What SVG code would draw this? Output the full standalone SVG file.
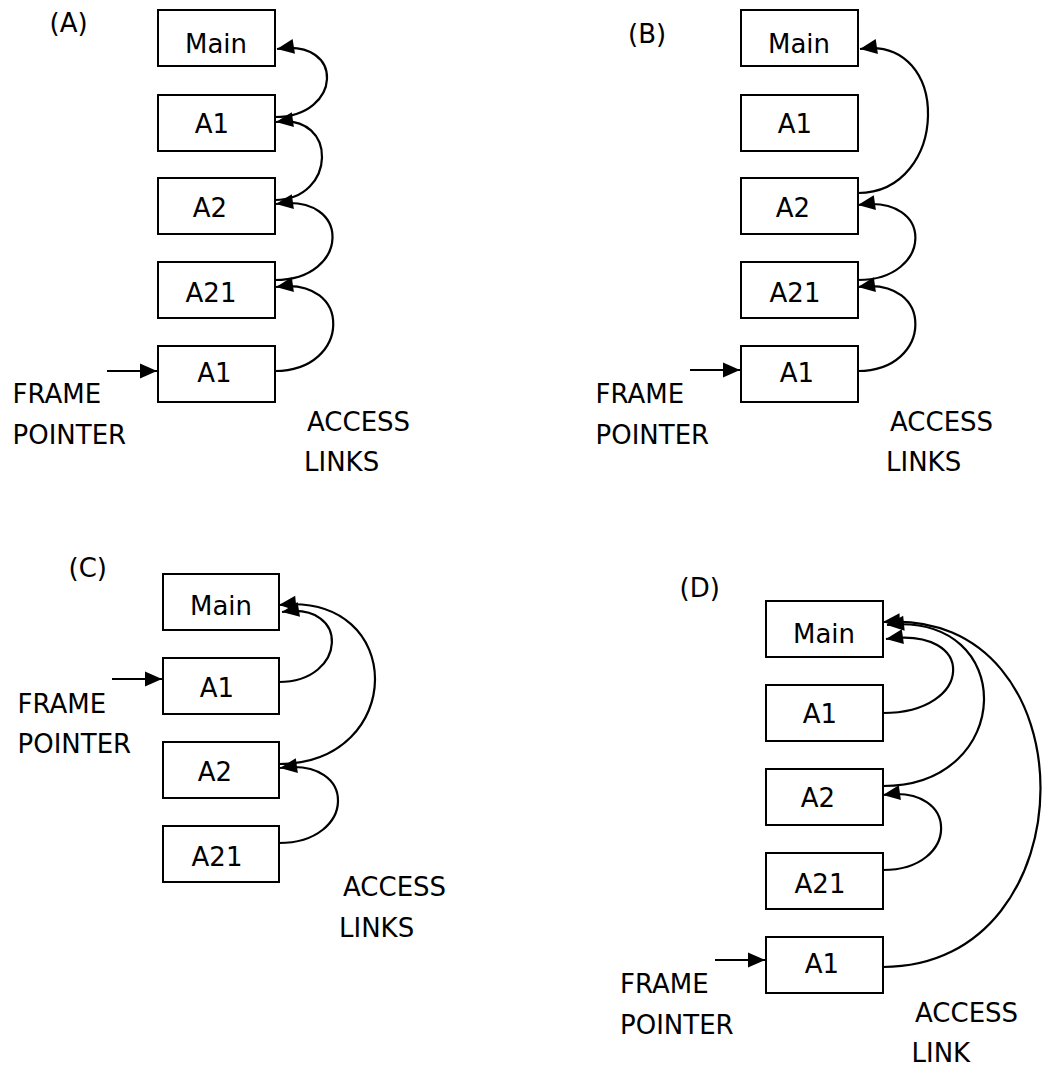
<svg xmlns="http://www.w3.org/2000/svg" width="1042" height="1066" viewBox="0 0 1042 1066">
<style>
.box{fill:#fff;stroke:#000;stroke-width:2}
text{font-family:"DejaVu Sans","Verdana",sans-serif;font-size:26px;fill:#000}
.c{text-anchor:middle}
.ln{fill:none;stroke:#000;stroke-width:2.2;marker-end:url(#ah)}
</style>
<defs>
<marker id="ah" markerWidth="17" markerHeight="16" refX="17" refY="8" orient="auto" markerUnits="userSpaceOnUse" overflow="visible"><path d="M0,0.5 L17,8 L0,15.5 z" fill="#000"/></marker>
</defs>
<rect width="1042" height="1066" fill="#fff"/>

<!-- Panel A -->
<g id="labelsA">
<text x="49.5" y="32">(A)</text>
<text x="12.5" y="403">FRAME</text>
<text x="12.5" y="444">POINTER</text>
<text x="307" y="431">ACCESS</text>
<text x="304" y="471">LINKS</text>
</g>
<g id="A_main"><rect class="box" x="158" y="10" width="117" height="56"/><text class="c" x="216" y="53">Main</text></g>
<g id="A_a1"><rect class="box" x="158" y="95" width="117" height="56"/><text class="c" x="212" y="133">A1</text></g>
<g id="A_a2"><rect class="box" x="158" y="178" width="117" height="56"/><text class="c" x="210" y="217">A2</text></g>
<g id="A_a21"><rect class="box" x="158" y="262" width="117" height="56"/><text class="c" x="211" y="302">A21</text></g>
<g id="A_a1b"><rect class="box" x="158" y="346" width="117" height="56"/><text class="c" x="214.5" y="382">A1</text></g>

<!-- Panel B -->
<g id="labelsB">
<text x="628" y="43">(B)</text>
<text x="595.5" y="403">FRAME</text>
<text x="595.5" y="444">POINTER</text>
<text x="890" y="431">ACCESS</text>
<text x="886" y="471">LINKS</text>
</g>
<g id="B_main"><rect class="box" x="741" y="10" width="117" height="56"/><text class="c" x="799" y="53">Main</text></g>
<g id="B_a1"><rect class="box" x="741" y="95" width="117" height="56"/><text class="c" x="795" y="133">A1</text></g>
<g id="B_a2"><rect class="box" x="741" y="178" width="117" height="56"/><text class="c" x="793" y="217">A2</text></g>
<g id="B_a21"><rect class="box" x="741" y="262" width="117" height="56"/><text class="c" x="795" y="302">A21</text></g>
<g id="B_a1b"><rect class="box" x="741" y="346" width="117" height="56"/><text class="c" x="797" y="382">A1</text></g>

<!-- Panel C -->
<g id="labelsC">
<text x="68.5" y="577">(C)</text>
<text x="17.5" y="713">FRAME</text>
<text x="17.5" y="753">POINTER</text>
<text x="343" y="896">ACCESS</text>
<text x="339" y="937">LINKS</text>
</g>
<g id="C_main"><rect class="box" x="163" y="574" width="116" height="56"/><text class="c" x="221" y="615">Main</text></g>
<g id="C_a1"><rect class="box" x="163" y="658" width="116" height="56"/><text class="c" x="217" y="697">A1</text></g>
<g id="C_a2"><rect class="box" x="163" y="742" width="116" height="56"/><text class="c" x="215" y="781">A2</text></g>
<g id="C_a21"><rect class="box" x="163" y="826" width="116" height="56"/><text class="c" x="217" y="866">A21</text></g>

<!-- Panel D -->
<g id="labelsD">
<text x="679.5" y="597">(D)</text>
<text x="620" y="993">FRAME</text>
<text x="620" y="1034">POINTER</text>
<text x="915" y="1022">ACCESS</text>
<text x="911.5" y="1062">LINK</text>
</g>
<g id="D_main"><rect class="box" x="766" y="601" width="117" height="56"/><text class="c" x="824" y="643">Main</text></g>
<g id="D_a1"><rect class="box" x="766" y="685" width="117" height="56"/><text class="c" x="820" y="723">A1</text></g>
<g id="D_a2"><rect class="box" x="766" y="769" width="117" height="56"/><text class="c" x="818" y="807">A2</text></g>
<g id="D_a21"><rect class="box" x="766" y="853" width="117" height="56"/><text class="c" x="820" y="893">A21</text></g>
<g id="D_a1b"><rect class="box" x="766" y="937" width="117" height="56"/><text class="c" x="822" y="973">A1</text></g>

<g id="connectors">
<!-- frame pointers -->
<path class="ln" d="M107,371 L157,371"/>
<path class="ln" d="M690,370 L740,370"/>
<path class="ln" d="M112,679 L162,679"/>
<path class="ln" d="M715,960 L765,960"/>
<!-- A -->
<path class="ln" d="M275,371 C351,371 354,276 276,287"/>
<path class="ln" d="M275,280 C350,280 353,193 276,204"/>
<path class="ln" d="M275,200 C336,200 339,113 276,122"/>
<path class="ln" d="M275,117 C342,117 346,38 277,49"/>
<!-- B -->
<path class="ln" d="M858,193 C949,193 953,35 860,49"/>
<path class="ln" d="M858,280 C933,280 936,194 858,205"/>
<path class="ln" d="M858,371 C933,371 936,276 858,287"/>
<!-- C -->
<path class="ln" d="M279,682 C347,682 351,601 282,612"/>
<path class="ln" d="M279,764 C406,764 408,592 279,605"/>
<path class="ln" d="M279,843 C356,843 359,757 280,768"/>
<!-- D -->
<path class="ln" d="M883,713 C974,713 978,626 886,639"/>
<path class="ln" d="M883,786 C1015,786 1019,612 887,625"/>
<path class="ln" d="M883,870 C960,870 961,784 883,795"/>
<path class="ln" d="M883,967 C1092,967 1094,607 883,622"/>
</g>
</svg>
